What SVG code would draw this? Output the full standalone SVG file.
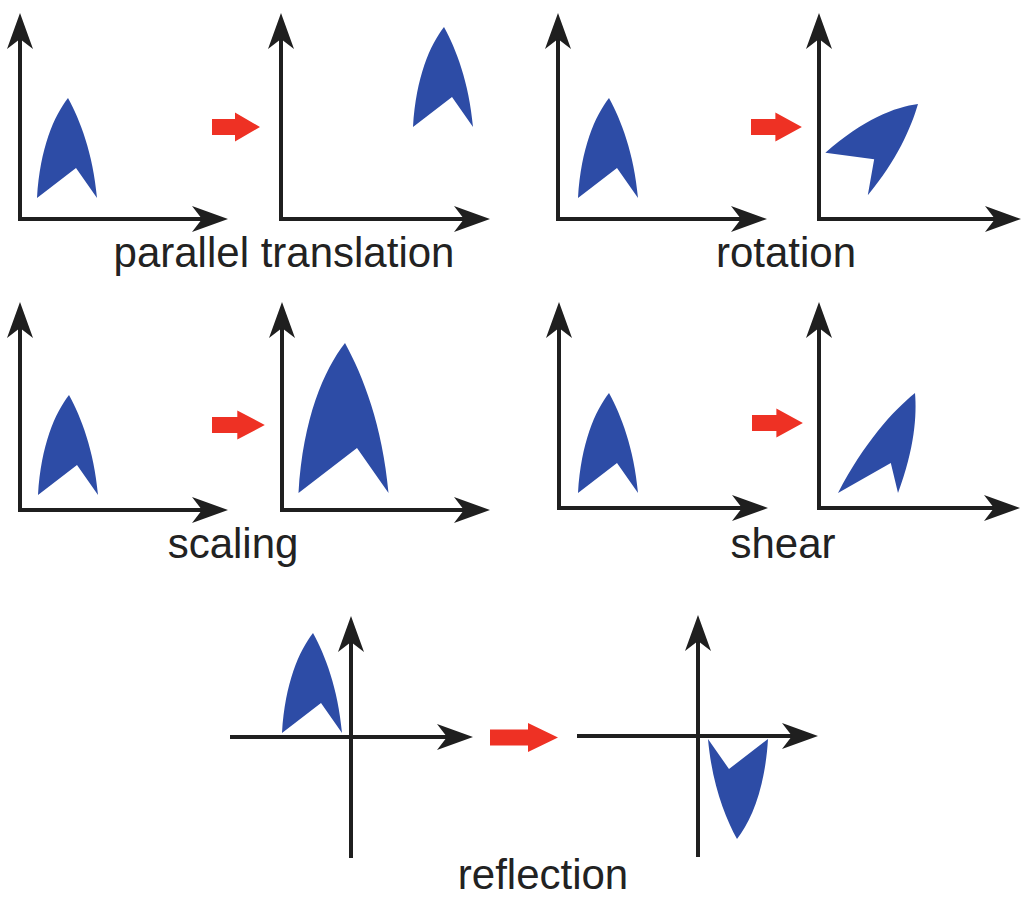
<svg xmlns="http://www.w3.org/2000/svg" width="1021" height="897" viewBox="0 0 1021 897">
<style>
.ax{fill:none;stroke:#1f1f1f;stroke-width:4;marker-start:url(#ah2);marker-end:url(#ah)}
.axl{fill:none;stroke:#1f1f1f;stroke-width:4;marker-end:url(#ah)}
.sh{fill:#2d4ca6}
.red{fill:#ee3124}
.lbl{font-family:"Liberation Sans",Arial,sans-serif;font-size:42px;fill:#222;text-anchor:middle}
</style>
<defs>
<marker id="ah" viewBox="-16 -13 36 26" refX="0" refY="0" markerWidth="36" markerHeight="26" markerUnits="userSpaceOnUse" orient="auto">
<path d="M20,0 L-16,-13 L-6,0 L-16,13 Z" fill="#1f1f1f"/>
</marker>
<marker id="ah2" viewBox="-16 -13 36 26" refX="0" refY="0" markerWidth="36" markerHeight="26" markerUnits="userSpaceOnUse" orient="auto-start-reverse">
<path d="M20,0 L-16,-13 L-6,0 L-16,13 Z" fill="#1f1f1f"/>
</marker>
<path id="shape" d="M0,0 C-14,18 -28,50 -31,100 L8,70 L29,100 C25,55 12,22 0,0 Z"/>
<path id="rarrow" d="M0,-8 L23,-8 L23,-14.5 L48,0 L23,14.5 L23,8 L0,8 Z"/>
</defs>
<rect width="1021" height="897" fill="#fff"/>

<g id="translation-before">
<path class="ax" d="M20,33 V219 H208"/>
<use href="#shape" class="sh" transform="translate(68,98)"/>
</g>
<g id="translation-after">
<path class="ax" d="M281,33 V219 H470"/>
<use href="#shape" class="sh" transform="translate(444,27)"/>
</g>
<g id="rotation-before">
<path class="ax" d="M558,33 V219 H747"/>
<use href="#shape" class="sh" transform="translate(609,98)"/>
</g>
<g id="rotation-after">
<path class="ax" d="M819,33 V219 H1001"/>
<use href="#shape" class="sh" transform="translate(918,104) rotate(45)"/>
</g>
<g id="scaling-before">
<path class="ax" d="M20,322 V510 H208"/>
<use href="#shape" class="sh" transform="translate(69,395)"/>
</g>
<g id="scaling-after">
<path class="ax" d="M282,322 V510 H470"/>
<use href="#shape" class="sh" transform="translate(345,343) scale(1.5)"/>
</g>
<g id="shear-before">
<path class="ax" d="M559,322 V508 H748"/>
<use href="#shape" class="sh" transform="translate(609,393)"/>
</g>
<g id="shear-after">
<path class="ax" d="M819,322 V508 H1000"/>
<use href="#shape" class="sh" transform="matrix(1,0,-0.46,1,915,393)"/>
</g>
<g id="reflection-before">
<path class="axl" d="M351,858 V636"/>
<path class="axl" d="M230,737 H453"/>
<use href="#shape" class="sh" transform="translate(313,633)"/>
</g>
<g id="reflection-after">
<path class="axl" d="M698,857 V635"/>
<path class="axl" d="M577,736 H798"/>
<use href="#shape" class="sh" transform="translate(737,839) rotate(180)"/>
</g>

<g id="connectors">
<use href="#rarrow" class="red" transform="translate(212,127)"/>
<use href="#rarrow" class="red" transform="translate(751,127) scale(1.06,1)"/>
<use href="#rarrow" class="red" transform="translate(212,425) scale(1.1,1)"/>
<use href="#rarrow" class="red" transform="translate(752,423) scale(1.06,1)"/>
<path class="red" d="M490,729.5 L528,729.5 L528,723 L558,737.5 L528,752 L528,745.5 L490,745.5 Z"/>
</g>

<g id="labels">
<text class="lbl" x="284" y="267">parallel translation</text>
<text class="lbl" x="786" y="267">rotation</text>
<text class="lbl" x="233" y="558">scaling</text>
<text class="lbl" x="783" y="558">shear</text>
<text class="lbl" x="543" y="889">reflection</text>
</g>
</svg>
